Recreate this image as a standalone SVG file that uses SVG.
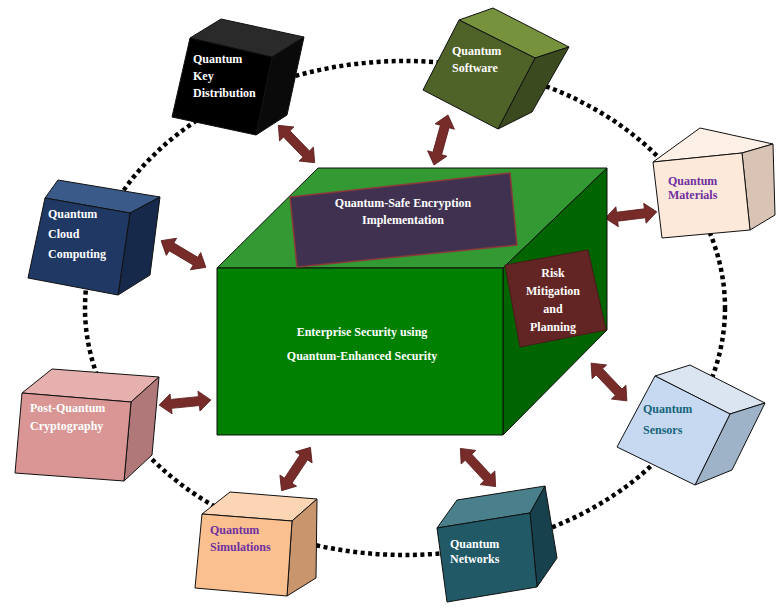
<svg xmlns="http://www.w3.org/2000/svg" xmlns:xlink="http://www.w3.org/1999/xlink" width="780" height="610" viewBox="0 0 780 610">
<style>
.e{stroke:#111;stroke-width:1;stroke-linejoin:round}
.t{font-family:"Liberation Serif",serif;font-weight:bold;font-size:12px}
.w{fill:#fff}
.ar{fill:#772c2a;stroke:#5a1c1c;stroke-width:0.8}
</style>
<defs>
<path id="dbl" d="M-26,0 L-14,-10 L-14,-4.5 L14,-4.5 L14,-10 L26,0 L14,10 L14,4.5 L-14,4.5 L-14,10 Z"/>
</defs>
<rect width="780" height="610" fill="#fff"/>
<ellipse cx="405" cy="308" rx="320" ry="247" fill="none" stroke="#000" stroke-width="4.5" stroke-dasharray="4 3.5"/>
<g id="connectors">
<use href="#dbl" class="ar" transform="translate(296.5,144) rotate(45.8)"/>
<use href="#dbl" class="ar" transform="translate(441,140) rotate(105.6)"/>
<use href="#dbl" class="ar" transform="translate(631,215) rotate(-7)"/>
<use href="#dbl" class="ar" transform="translate(183.5,254) rotate(30.8)"/>
<use href="#dbl" class="ar" transform="translate(185,402.5) rotate(-5.7)"/>
<use href="#dbl" class="ar" transform="translate(296,469) rotate(123.7)"/>
<use href="#dbl" class="ar" transform="translate(478,467.5) rotate(47.3)"/>
<use href="#dbl" class="ar" transform="translate(609,382) rotate(46.5)"/>
</g>
<g id="center">
<polygon class="e" fill="#339933" points="217,268 318,168 607,168 503,268"/>
<polygon class="e" fill="#006400" points="503,268 607,168 607,330 503,435"/>
<rect class="e" fill="#008000" x="217" y="268" width="286" height="167"/>
<polygon fill="#403151" stroke="#8b3a3a" stroke-width="1.5" points="290,197 510,173 517,245 297,267"/>
<text class="t w" text-anchor="middle" x="403" y="207">Quantum-Safe Encryption</text>
<text class="t w" text-anchor="middle" x="403" y="224">Implementation</text>
<polygon fill="#632523" stroke="#4a1a1a" points="505,265 588,250 606,330 520,347"/>
<text class="t w" text-anchor="middle" font-size="13" x="553" y="277">Risk</text>
<text class="t w" text-anchor="middle" font-size="13" x="553" y="295">Mitigation</text>
<text class="t w" text-anchor="middle" font-size="13" x="553" y="313">and</text>
<text class="t w" text-anchor="middle" font-size="13" x="553" y="331">Planning</text>
<text class="t w" text-anchor="middle" font-size="20" x="362" y="336">Enterprise Security using</text>
<text class="t w" text-anchor="middle" font-size="15" x="362" y="360">Quantum-Enhanced Security</text>
</g>
<g id="qkd">
<polygon class="e" fill="#2a2a2a" points="190,38 221,19 304,37 272,57"/>
<polygon class="e" fill="#0a0a0a" points="272,57 304,37 287,115 256,135"/>
<polygon class="e" fill="#000" points="190,38 272,57 256,135 172,117"/>
<text class="t w" x="193" y="63">Quantum</text>
<text class="t w" x="193" y="80">Key</text>
<text class="t w" x="193" y="97">Distribution</text>
</g>
<g id="software">
<polygon class="e" fill="#76923c" points="459,20 493,8 569,47 535,58"/>
<polygon class="e" fill="#3b4a1f" points="535,58 569,47 532,112 498,129"/>
<polygon class="e" fill="#4f6228" points="459,20 535,58 498,129 423,90"/>
<text class="t w" x="452" y="55">Quantum</text>
<text class="t w" x="452" y="72">Software</text>
</g>
<g id="materials">
<polygon class="e" fill="#fdf1e7" points="653,162 700,128 773,144 742,153"/>
<polygon class="e" fill="#d9c3b5" points="742,153 773,144 775,215 750,230"/>
<polygon class="e" fill="#fde9d9" points="653,162 742,153 750,230 662,238"/>
<text class="t" fill="#7030a0" x="668" y="185">Quantum</text>
<text class="t" fill="#7030a0" x="668" y="199">Materials</text>
</g>
<g id="cloud">
<polygon class="e" fill="#3a5a8a" points="45,198 58,180 160,197 130,213"/>
<polygon class="e" fill="#16294a" points="130,213 160,197 150,275 118,295"/>
<polygon class="e" fill="#1f3864" points="45,198 130,213 118,295 28,278"/>
<text class="t w" x="48" y="218">Quantum</text>
<text class="t w" x="48" y="238">Cloud</text>
<text class="t w" x="48" y="258">Computing</text>
</g>
<g id="pqc">
<polygon class="e" fill="#e6b0ae" points="22,393 52,369 159,377 131,402"/>
<polygon class="e" fill="#b07878" points="131,402 159,377 152,455 124,481"/>
<polygon class="e" fill="#d99694" points="22,393 131,402 124,481 15,473"/>
<text class="t w" x="30" y="412">Post-Quantum</text>
<text class="t w" x="30" y="430">Cryptography</text>
</g>
<g id="simulations">
<polygon class="e" fill="#fcd5b4" points="202,514 230,492 317,499 292,521"/>
<polygon class="e" fill="#c9956c" points="292,521 317,499 316,578 287,596"/>
<polygon class="e" fill="#fac090" points="202,514 292,521 287,596 195,588"/>
<text class="t" fill="#7030a0" x="210" y="534">Quantum</text>
<text class="t" fill="#7030a0" x="210" y="551">Simulations</text>
</g>
<g id="networks">
<polygon class="e" fill="#4a7f8c" points="437,528 457,500 545,486 530,513"/>
<polygon class="e" fill="#17414c" points="530,513 545,486 557,558 537,587"/>
<polygon class="e" fill="#215967" points="437,528 530,513 537,587 447,602"/>
<text class="t w" x="450" y="548">Quantum</text>
<text class="t w" x="450" y="563">Networks</text>
</g>
<g id="sensors">
<polygon class="e" fill="#dbe5f1" points="655,376 690,365 765,403 730,414"/>
<polygon class="e" fill="#9fb3c8" points="730,414 765,403 732,470 695,485"/>
<polygon class="e" fill="#c6d9f1" points="655,376 730,414 695,485 617,447"/>
<text class="t" fill="#17657a" font-size="13" x="643" y="413">Quantum</text>
<text class="t" fill="#17657a" font-size="13" x="643" y="434">Sensors</text>
</g>
</svg>
